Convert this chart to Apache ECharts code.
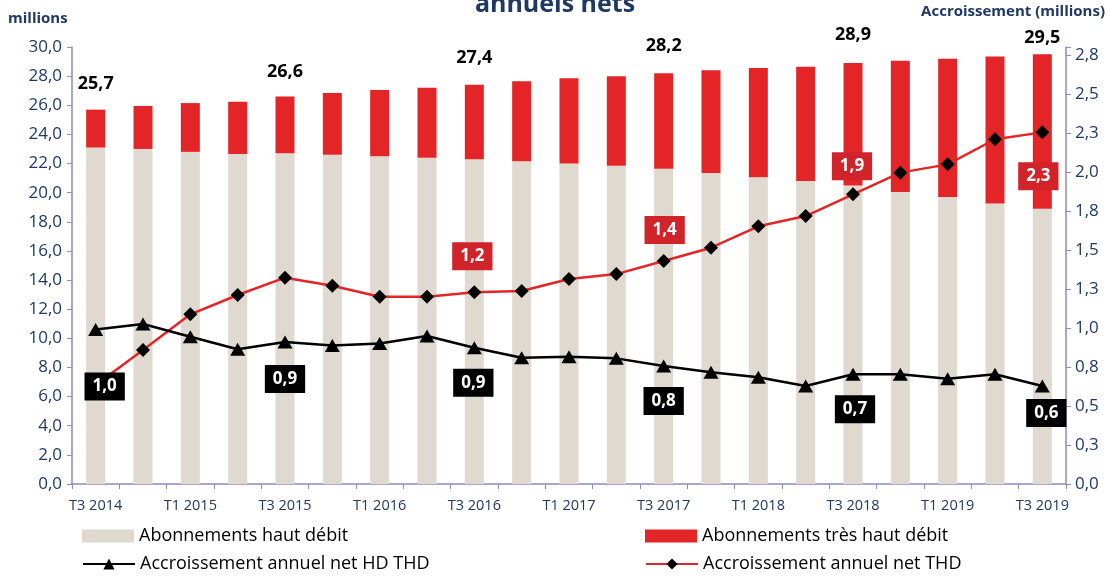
<!DOCTYPE html>
<html><head><meta charset="utf-8">
<script src="https://cdn.jsdelivr.net/npm/echarts@6/dist/echarts.min.js"></script>
<style>html,body{margin:0;padding:0;background:#fff}#c{width:1110px;height:577px}</style>
</head><body><div id="c"></div>
<script>
// ---- data ----
const categories = ['T3 2014','T4 2014','T1 2015','T2 2015','T3 2015','T4 2015','T1 2016','T2 2016','T3 2016','T4 2016','T1 2017','T2 2017','T3 2017','T4 2017','T1 2018','T2 2018','T3 2018','T4 2018','T1 2019','T2 2019','T3 2019'];
const hdSubs = [23.1,23.0,22.8,22.65,22.7,22.6,22.5,22.4,22.3,22.15,22.0,21.85,21.65,21.35,21.05,20.8,20.5,20.05,19.7,19.25,18.9];
const thdSubs = [2.6,2.95,3.35,3.6,3.9,4.25,4.55,4.8,5.1,5.5,5.85,6.15,6.55,7.05,7.5,7.85,8.4,9.0,9.5,10.1,10.6];
const growthAll = [0.99,1.025,0.944,0.863,0.91,0.888,0.9,0.948,0.873,0.809,0.816,0.805,0.756,0.716,0.684,0.628,0.703,0.703,0.675,0.703,0.628];
const growthThd = [0.634,0.859,1.087,1.211,1.322,1.27,1.2,1.2,1.228,1.237,1.313,1.345,1.429,1.514,1.651,1.717,1.856,1.995,2.048,2.209,2.253];
const labeledIdx = [0,4,8,12,16,20];
const names = ['Abonnements haut débit','Abonnements très haut débit','Accroissement annuel net HD THD','Accroissement annuel net THD'];

// ---- styles ----
const FONT = '"Open Sans", sans-serif';
const NAVY = '#1F3864';
const AXIS = '#8C8CBE';
const BEIGE = '#DFD9D0';
const RED = '#E42527';
const fmt = v => v.toFixed(1).replace('.', ',');
const totalDist = {0:17,4:16,8:18,12:18,16:19,20:7};
const blackOff = {0:[9,57],4:[0,37],8:[-1,35],12:[0,35],16:[2,35],20:[4,27]};
const redOff = {8:[-2,-36],12:[1,-31],16:[-1,-28],20:[-4,44]};

const boxLabel = (bg, off) => ({show:true, position:'inside', offset:off, backgroundColor:bg, color:'#fff',
  fontFamily:FONT, fontWeight:'bold', fontSize:17, padding:[6,8,5,8], formatter: p => fmt(p.value)});

const thdData = thdSubs.map((v,i) => labeledIdx.includes(i) ? {value:v, label:{show:true, position:'top', distance:totalDist[i],
  color:'#000', fontFamily:FONT, fontWeight:'bold', fontSize:18, formatter: () => fmt(hdSubs[i]+thdSubs[i])}} : v);
const allData = growthAll.map((v,i) => blackOff[i] ? {value:v, label:boxLabel('#000', blackOff[i])} : v);
const thdLineData = growthThd.map((v,i) => redOff[i] ? {value:v, label:boxLabel('#D0242A', redOff[i])} : v);

const legendTxt = {fontFamily:FONT, fontSize:18, color:'#000'};
const mkLegend = (name, left, top, icon, h) => ({data:[name], left, top, padding:0, itemWidth:52, itemHeight:h,
  icon, textStyle:legendTxt, itemGap:6, selectedMode:false});

const chart = echarts.init(document.getElementById('c'));
chart.setOption({
  animation:false,
  title:[
    {text:'annuels nets', left:'center', top:-8, padding:0, textStyle:{fontFamily:FONT, fontSize:25, fontWeight:'bold', color:NAVY}},
    {text:'millions', left:8, top:11, padding:0, textStyle:{fontFamily:FONT, fontSize:15, fontWeight:'bold', color:NAVY}},
    {text:'Accroissement (millions)', right:5, top:4, padding:0, textStyle:{fontFamily:FONT, fontSize:15, fontWeight:'bold', color:NAVY}}
  ],
  legend:[
    mkLegend(names[0], 82, 527, 'rect', 13),
    mkLegend(names[1], 645, 527, 'rect', 13),
    mkLegend(names[2], 82, 555, undefined, 14),
    mkLegend(names[3], 645, 555, undefined, 14)
  ],
  grid:{left:72, right:44, top:47, bottom:93, containLabel:false},
  xAxis:{type:'category', data:categories, boundaryGap:true,
    axisLine:{lineStyle:{color:AXIS, width:1.5}},
    axisTick:{show:true, interval:0, length:5, lineStyle:{color:AXIS}},
    axisLabel:{interval:1, margin:14, color:NAVY, fontFamily:FONT, fontSize:14.5}},
  yAxis:[
    {type:'value', min:0, max:30, interval:2, splitLine:{show:false},
      axisLine:{show:true, lineStyle:{color:AXIS, width:1.5}},
      axisTick:{show:true, length:5, lineStyle:{color:AXIS}},
      axisLabel:{margin:10, color:NAVY, fontFamily:FONT, fontSize:17, formatter:v => fmt(v)}},
    {type:'value', min:0, max:2.8, interval:0.25, splitLine:{show:false},
      axisLine:{show:true, lineStyle:{color:AXIS, width:1.5}},
      axisTick:{show:true, length:5, lineStyle:{color:AXIS}},
      axisLabel:{margin:9, color:NAVY, fontFamily:FONT, fontSize:17,
        formatter:v => Math.abs(v/0.25 - Math.round(v/0.25)) > 1e-6 ? '' : fmt(v)}}
  ],
  series:[
    {name:names[0], type:'bar', stack:'s', data:hdSubs, barWidth:19, itemStyle:{color:BEIGE}, z:1},
    {name:names[1], type:'bar', stack:'s', data:thdData, barWidth:19, itemStyle:{color:RED}, z:1},
    {name:names[2], type:'line', yAxisIndex:1, data:allData, symbol:'triangle', symbolSize:[15,13],
      lineStyle:{color:'#000', width:2.5}, itemStyle:{color:'#000'}, z:4},
    {name:names[3], type:'line', yAxisIndex:1, data:thdLineData, symbol:'diamond', symbolSize:14,
      lineStyle:{color:RED, width:2.5}, itemStyle:{color:'#000'}, z:3}
  ]
});
</script></body></html>
